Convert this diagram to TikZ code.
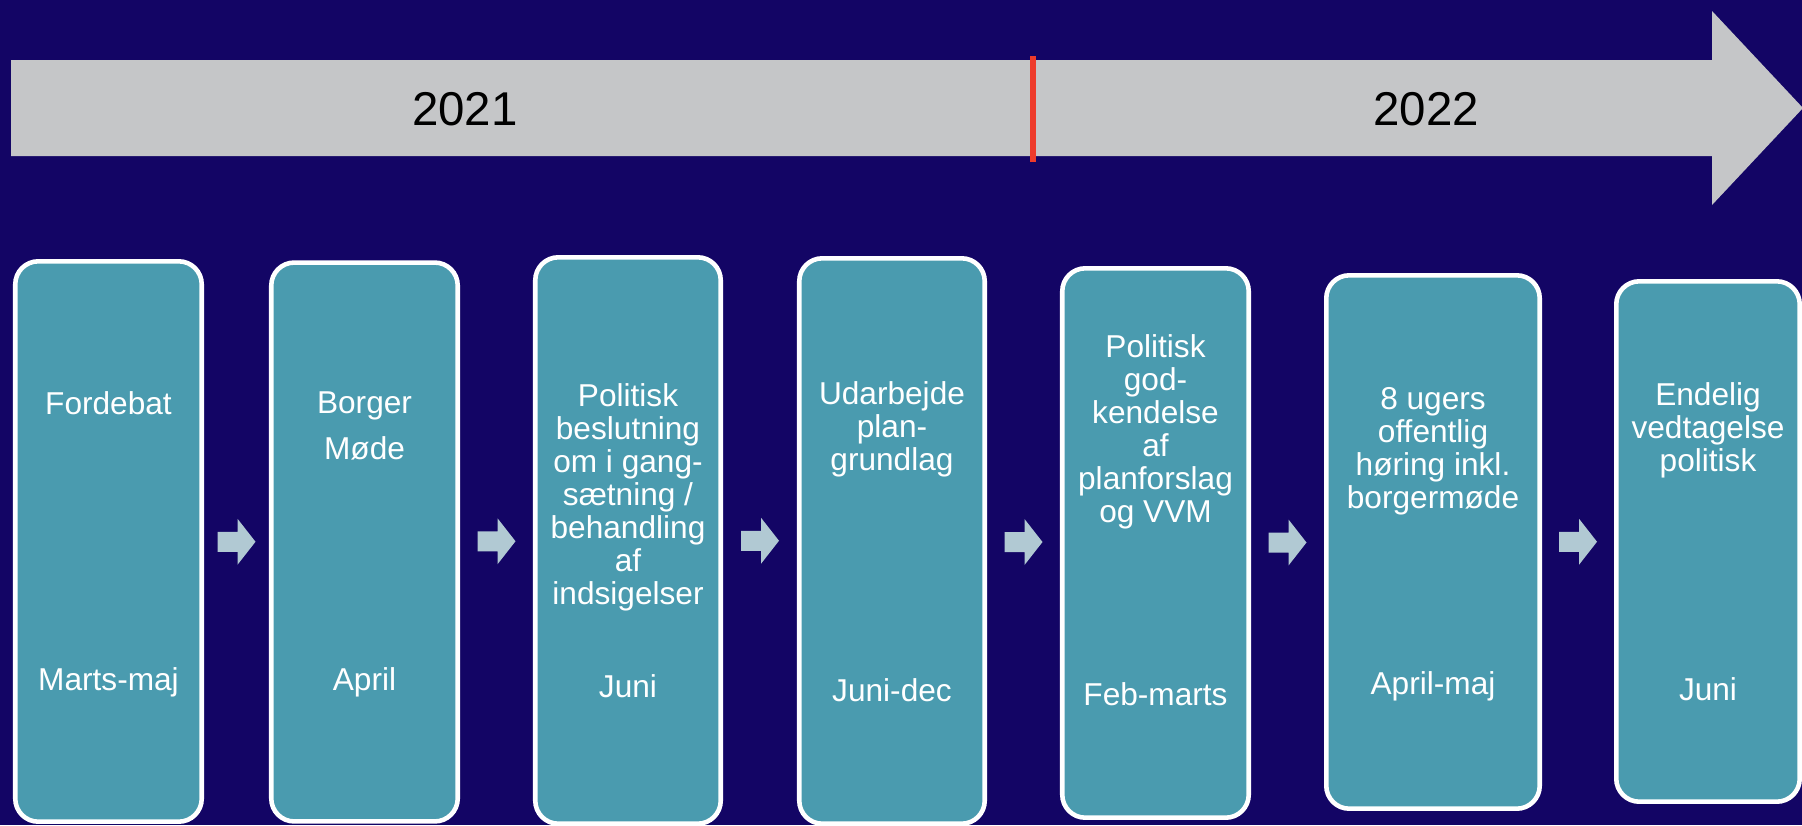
\documentclass[tikz,border=0pt]{standalone}
\usepackage{fontspec}
\setmainfont{Liberation Sans}
\usetikzlibrary{calc}
\definecolor{bgC}{HTML}{130565}
\definecolor{barC}{HTML}{C5C6C8}
\definecolor{stageC}{HTML}{4A9BAF}
\definecolor{stepC}{HTML}{B1C9D3}
\definecolor{markC}{HTML}{EE3B2B}
\tikzset{
  stage/.style={draw=white, line width=2.6pt, fill=stageC, rounded corners=0.46cm,
                minimum width=3.73cm},
  title/.style={anchor=north, align=center, text=white, inner sep=0pt,
                font=\fontsize{18}{18.8}\selectfont},
  period/.style={anchor=base, text=white, inner sep=0pt, font=\fontsize{18}{18.8}\selectfont},
  year/.style={anchor=base, inner sep=0pt, font=\fontsize{27}{30}\selectfont},
  pics/steparrow/.style={code={
    \fill[stepC] (-19,-10) -- (1,-10) -- (1,-23) -- (19,0) -- (1,23) -- (1,10) -- (-19,10) -- cycle;}},
}

\begin{document}
\begin{tikzpicture}[x=0.02cm, y=-0.02cm]
\fill[bgC] (0,0) rectangle (1802,825);
\useasboundingbox (0,0) rectangle (1802,825);
% time line
\fill[barC] (11,60) -- (1712,60) -- (1712,11) -- (1803,108) -- (1712,205) -- (1712,156) -- (11,156) -- cycle;
\draw[markC, line width=3.4pt] (1033,56) -- (1033,162);
\node[year] (y21) at (465,125)  {2021};
\node[year] (y22) at (1426,125) {2022};
% stages
\node[stage, minimum height=11.21cm] (b1) at (108.5,541.5) {};
\node[stage, minimum height=11.18cm] (b2) at (364.5,542) {};
\node[stage, minimum width=3.71cm, minimum height=11.33cm] (b3) at (628,540.5) {};
\node[stage, minimum width=3.71cm, minimum height=11.31cm] (b4) at (892,541) {};
\node[stage, minimum height=10.99cm] (b5) at (1155.5,543) {};
\node[stage, minimum width=4.27cm, minimum height=10.67cm] (b6) at (1433,542) {};
\node[stage, minimum width=3.67cm, minimum height=10.41cm] (b7) at (1708,541.5) {};
\node[title] (t1) at (108.5,391.5) {Fordebat};
\node[title] (t2) at (364.5,391.5) {Borger\\[7.4pt]Møde};
\node[title] (t3) at (628,383.5)   {Politisk\\beslutning\\om i gang-\\sætning /\\behandling\\af\\indsigelser};
\node[title] (t4) at (892,381.5)   {Udarbejde\\plan-\\grundlag};
\node[title] (t5) at (1155.5,334.5) {Politisk\\god-\\kendelse\\af\\planforslag\\og VVM};
\node[title] (t6) at (1433,387)    {8 ugers\\offentlig\\høring inkl.\\borgermøde};
\node[title] (t7) at (1708,382)    {Endelig\\vedtagelse\\politisk};
\node[period] (d1) at (108.5,690.5) {Marts-maj};
\node[period] (d2) at (364.5,690.5) {April};
\node[period] (d3) at (628,697)     {Juni};
\node[period] (d4) at (892,701)     {Juni-dec};
\node[period] (d5) at (1155.5,705.5) {Feb-marts};
\node[period] (d6) at (1433,694)    {April-maj};
\node[period] (d7) at (1708,700)    {Juni};
\foreach \a/\b in {b1/b2,b2/b3,b3/b4,b4/b5,b5/b6,b6/b7}
  \pic at ($(\a.east)!0.5!(\b.west)$) {steparrow};
\end{tikzpicture}
\end{document}
